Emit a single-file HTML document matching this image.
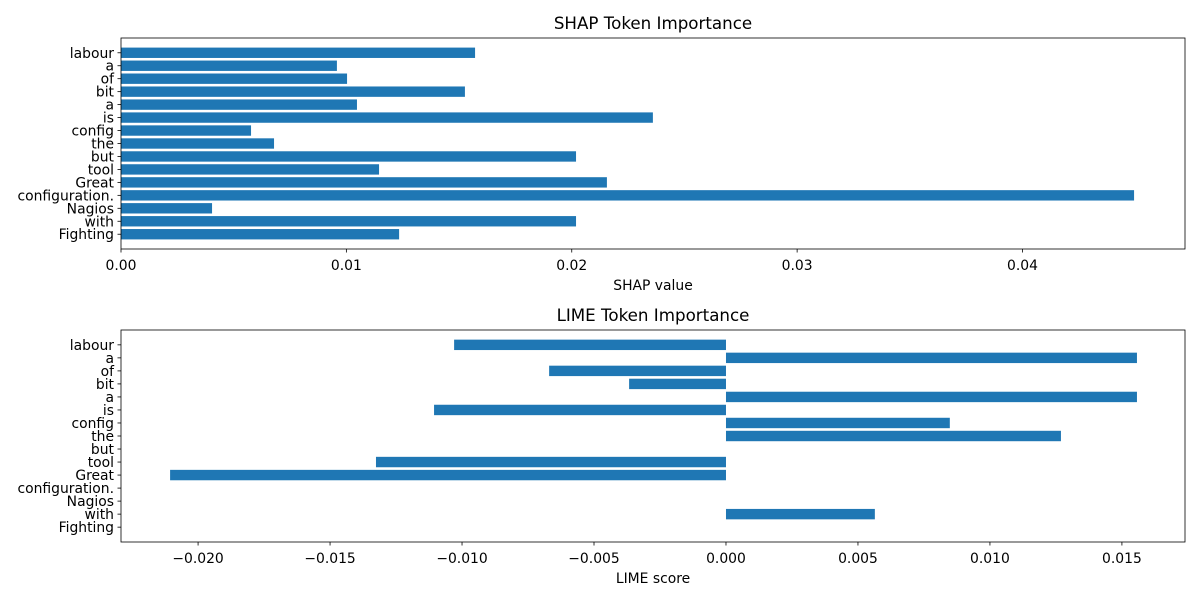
<!DOCTYPE html>
<html><head><meta charset="utf-8"><style>
body{margin:0;background:#fff;}
svg{display:block;font-family:"DejaVu Sans","Liberation Sans",sans-serif;}
</style></head><body>
<svg id="chart" width="1200" height="600"></svg>
<script>
const tokens = ["Fighting","with","Nagios","configuration.","Great","tool","but","the","config","is","a","bit","of","a","labour"];
const shapValues = [0.01234,0.02019,0.00404,0.04495,0.02156,0.01145,0.02019,0.00679,0.00577,0.0236,0.01047,0.01526,0.01003,0.00958,0.01571];
const limeValues = [0,0.00564,0,0,-0.02106,-0.01326,0,0.01269,0.00848,-0.01106,0.01557,-0.00367,-0.0067,0.01557,-0.0103];
const shapTicks = [0,0.01,0.02,0.03,0.04];
const shapTickLabels = ["0.00","0.01","0.02","0.03","0.04"];
const limeTicks = [-0.02,-0.015,-0.01,-0.005,0,0.005,0.01,0.015];
const limeTickLabels = ["−0.020","−0.015","−0.010","−0.005","0.000","0.005","0.010","0.015"];

const svg = document.getElementById('chart');
const NS = 'http://www.w3.org/2000/svg';
function mk(tag, attrs, parent){const e=document.createElementNS(NS,tag);for(const k in attrs)e.setAttribute(k,attrs[k]);parent.appendChild(e);return e;}

function panel(cfg){
  const g = mk('g',{},svg);
  
  
  const {x0,x1,y0,y1,xmin,xmax} = cfg;
  const xs = v => x0 + (v-xmin)/(xmax-xmin)*(x1-x0);
  const ymin=-1.14, ymax=tokens.length-1+1.14;
  const ys = i => y1 - (i-ymin)/(ymax-ymin)*(y1-y0);
  const unit = (y1-y0)/(ymax-ymin);
  cfg.values.forEach((v,i)=>{
    const a = xs(Math.min(0,v)), b = xs(Math.max(0,v));
    const r = mk('rect',{x:a,y:ys(i)-0.4*unit,width:Math.max(0,b-a),height:0.8*unit,fill:'#1f77b4'},g);
    
    
    mk('line',{x1:x0-3.5,x2:x0,y1:ys(i),y2:ys(i),stroke:'#000','stroke-width':0.8},g);
    const t = mk('text',{x:x0-7,y:ys(i)+5,'text-anchor':'end','font-size':13.9},g);
    t.textContent = tokens[i];
    
    
  });
  mk('rect',{x:x0,y:y0,width:x1-x0,height:y1-y0,fill:'none',stroke:'#000','stroke-width':0.8},g);
  cfg.ticks.forEach((v,k)=>{
    mk('line',{x1:xs(v),x2:xs(v),y1:y1,y2:y1+3.5,stroke:'#000','stroke-width':0.8},g);
    const t = mk('text',{x:xs(v),y:y1+21,'text-anchor':'middle','font-size':13.9},g);
    t.textContent = cfg.tickLabels[k];
    
    
  });
  const xl = mk('text',{x:(x0+x1)/2,y:y1+41,'text-anchor':'middle','font-size':13.9},g);
  xl.textContent = cfg.xlabel;
  
  
  const tt = mk('text',{x:(x0+x1)/2,y:y0-9,'text-anchor':'middle','font-size':16.7},g);
  tt.textContent = cfg.title;
  
  
}
panel({name:'shap-panel',x0:121,x1:1185,y0:38,y1:249,xmin:0,xmax:0.04721,values:shapValues,ticks:shapTicks,tickLabels:shapTickLabels,xlabel:'SHAP value',title:'SHAP Token Importance'});
panel({name:'lime-panel',x0:121,x1:1185,y0:330,y1:542,xmin:-0.02292,xmax:0.01739,values:limeValues,ticks:limeTicks,tickLabels:limeTickLabels,xlabel:'LIME score',title:'LIME Token Importance'});
</script>
</body></html>
